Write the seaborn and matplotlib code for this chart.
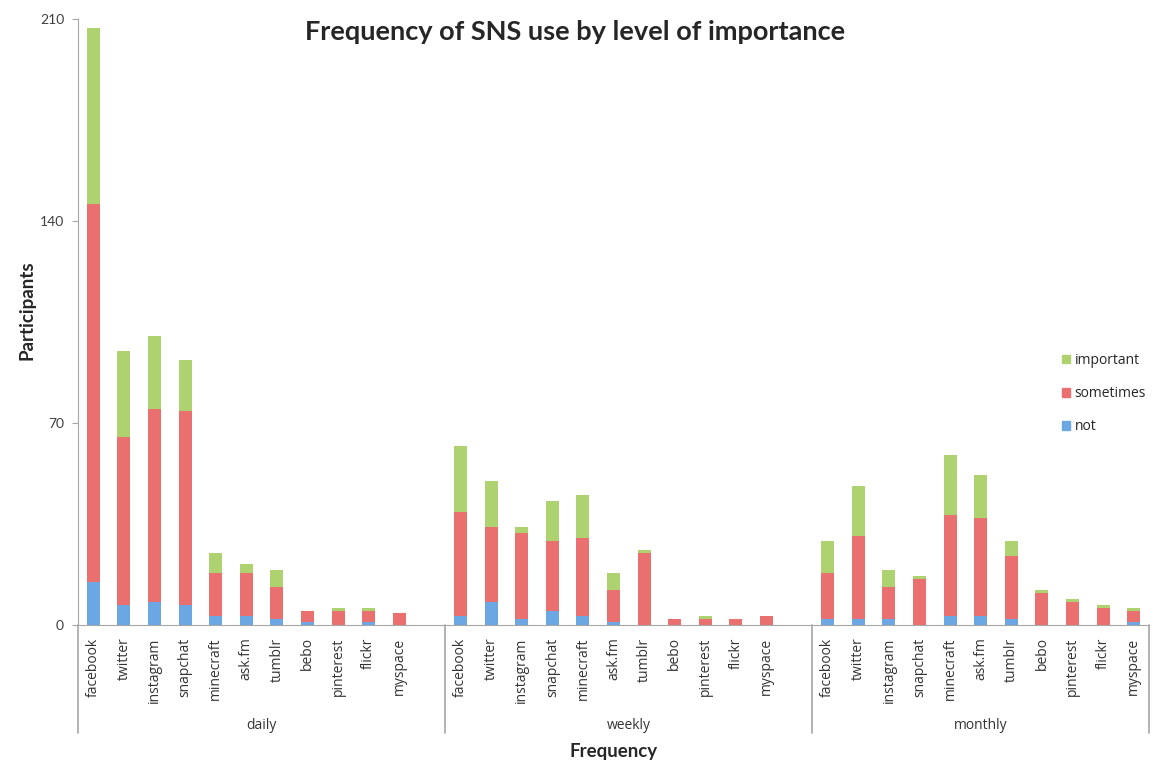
import matplotlib
matplotlib.use("Agg")
import matplotlib.pyplot as plt
from matplotlib.patches import Patch
import pandas as pd
import seaborn as sns

sites = ["facebook", "twitter", "instagram", "snapchat", "minecraft", "ask.fm",
         "tumblr", "bebo", "pinterest", "flickr", "myspace"]
frequencies = ["daily", "weekly", "monthly"]
levels = ["not", "sometimes", "important"]

daily_not = [15, 7, 8, 7, 3, 3, 2, 1, 0, 1, 0]
daily_sometimes = [131, 58, 67, 67, 15, 15, 11, 4, 5, 4, 4]
daily_important = [61, 30, 25, 18, 7, 3, 6, 0, 1, 1, 0]

weekly_not = [3, 8, 2, 5, 3, 1, 0, 0, 0, 0, 0]
weekly_sometimes = [36, 26, 30, 24, 27, 11, 25, 2, 2, 2, 3]
weekly_important = [23, 16, 2, 14, 15, 6, 1, 0, 1, 0, 0]

monthly_not = [2, 2, 2, 0, 3, 3, 2, 0, 0, 0, 1]
monthly_sometimes = [16, 29, 11, 16, 35, 34, 22, 11, 8, 6, 4]
monthly_important = [11, 17, 6, 1, 21, 15, 5, 1, 1, 1, 1]

colors = {"not": "#6ba7e3", "sometimes": "#ea6f6f", "important": "#aed26f"}
grey = "#a6a6a6"

series = {
    "daily": (daily_not, daily_sometimes, daily_important),
    "weekly": (weekly_not, weekly_sometimes, weekly_important),
    "monthly": (monthly_not, monthly_sometimes, monthly_important),
}

rows = []
for freq in frequencies:
    n, s, imp = series[freq]
    for i, site in enumerate(sites):
        rows.append({"frequency": freq, "site": site,
                     "not": n[i], "sometimes": n[i] + s[i],
                     "important": n[i] + s[i] + imp[i]})
df = pd.DataFrame(rows)

sns.set_style("white")
plt.rcParams["font.family"] = ["Lato", "DejaVu Sans"]

fig, axes = plt.subplots(1, 3, figsize=(11.64, 7.69), dpi=100, sharey=True,
                         gridspec_kw={"width_ratios": [12, 12, 11], "wspace": 0})
fig.subplots_adjust(left=78 / 1164, right=1149 / 1164,
                    top=1 - 19 / 769, bottom=1 - 625 / 769)

for k, (ax, freq) in enumerate(zip(axes, frequencies)):
    sub = df[df["frequency"] == freq]
    # draw tallest stack first so lower segments sit on top
    for lvl in reversed(levels):
        sns.barplot(data=sub, x="site", y=lvl, order=sites, color=colors[lvl],
                    saturation=1, width=0.43, ax=ax, errorbar=None, linewidth=0)
    ax.set_xlim(-0.5, 11.5 if k < 2 else 10.5)
    ax.set_ylim(0, 210)
    ax.set_xlabel("")
    ax.set_ylabel("")
    for side in ["top", "right", "left"]:
        ax.spines[side].set_visible(False)
    ax.spines["bottom"].set_color(grey)
    ax.tick_params(axis="x", length=0, pad=9, labelsize=10, labelcolor="#333333")
    for lab in ax.get_xticklabels():
        lab.set_rotation(90)
        lab.set_family(["Open Sans", "DejaVu Sans"])
    # separator lines of the grouped category axis
    ax.plot([0, 0], [0, -0.178], transform=ax.transAxes, color=grey,
            lw=1.2, clip_on=False)
    if k == 2:
        ax.plot([1, 1], [0, -0.178], transform=ax.transAxes, color=grey,
                lw=1.2, clip_on=False)
    ax.text(0.5, -0.166, freq, transform=ax.transAxes, ha="center", va="center",
            fontsize=10, color="#333333", family=["Open Sans", "DejaVu Sans"])

ax0 = axes[0]
ax0.spines["left"].set_visible(True)
ax0.spines["left"].set_color(grey)
ax0.set_yticks([0, 70, 140, 210])
ax0.tick_params(axis="y", left=True, length=4, color=grey, labelsize=10,
                labelcolor="#404040", pad=6)

fig.text(575 / 1164, 1 - 32 / 769, "Frequency of SNS use by level of importance",
         ha="center", va="center", fontsize=19.5, fontweight="bold")
fig.text(27 / 1164, 1 - 310 / 769, "Participants", rotation=90,
         ha="center", va="center", fontsize=13.5, fontweight="bold")
fig.text(614 / 1164, 1 - 752 / 769, "Frequency",
         ha="center", va="center", fontsize=13.5, fontweight="bold")

handles = [Patch(color=colors[l], label=l) for l in reversed(levels)]
fig.legend(handles=handles, loc="upper left",
           bbox_to_anchor=(1055 / 1164, 1 - 346 / 769), frameon=False,
           handlelength=0.6, handleheight=0.6, handletextpad=0.3,
           labelspacing=1.3, borderpad=0,
           prop={"family": ["Open Sans", "DejaVu Sans"], "size": 10})

fig.savefig("out.png", dpi=100, facecolor="white")
